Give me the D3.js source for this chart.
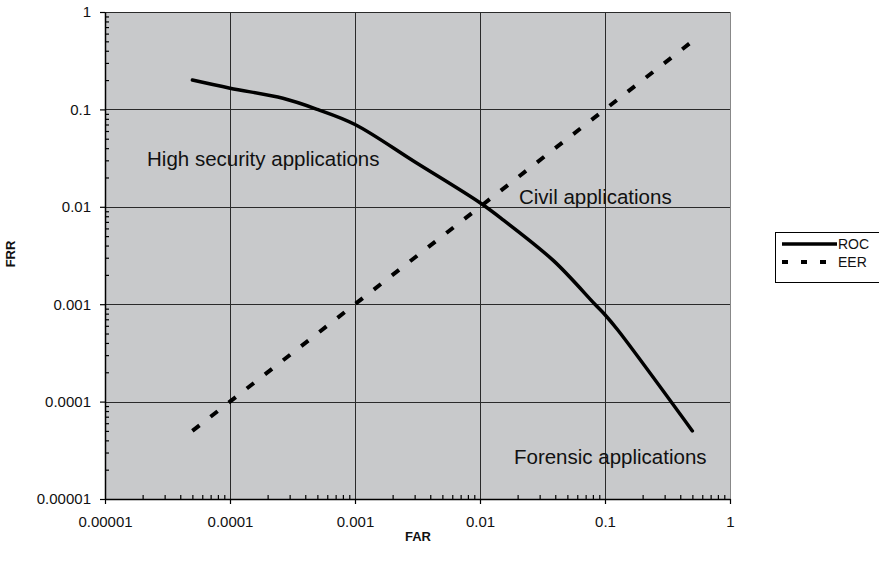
<!DOCTYPE html>
<meta charset="utf-8">
<style>
  body { margin: 0; background: #fff; }
  text { font-family: "Liberation Sans", Arial, sans-serif; fill: #111; }
</style>
<svg width="879" height="561"></svg>
<script src="https://d3js.org/d3.v7.min.js"></script>
<script>

// ROC curve (FAR, FRR)
var rocFar = [5e-5, 1e-4, 2.65e-4, 5e-4, 1e-3, 3e-3, 0.01, 0.0154, 0.0387, 0.083, 0.1, 0.127, 0.5];
var rocFrr = [0.2, 0.165, 0.13, 0.1, 0.07, 0.029, 0.011, 0.0073, 0.0028, 0.001, 0.00078, 0.00054, 5e-5];

// equal error line
var eerFar = [5e-5, 0.5];
var eerFrr = [5e-5, 0.5];

var tickValues = [1e-5, 1e-4, 1e-3, 1e-2, 1e-1, 1];
var tickLabels = ["0.00001", "0.0001", "0.001", "0.01", "0.1", "1"];

var noteText = ["High security applications", "Civil applications", "Forensic applications"];
var noteFar = [2.17e-5, 0.0205, 0.0187];
var noteFrr = [0.0262, 0.0107, 2.3e-5];

var legendNames = ["ROC", "EER"];

var svg = d3.select("svg");

var x = d3.scaleLog().domain([1e-5, 1]).range([105, 730]),
    y = d3.scaleLog().domain([1e-5, 1]).range([499, 12]);

// minor ticks 2..9 in each decade
var minors = [];
tickValues.slice(0, -1).forEach(function(d) {
  for (var k = 2; k < 10; k++) minors.push(d * k);
});

svg.append("rect")
    .attr("x", x(1e-5)).attr("y", y(1))
    .attr("width", x(1) - x(1e-5)).attr("height", y(1e-5) - y(1))
    .attr("fill", "#c8c9cb");

// grid
var grid = svg.append("g").attr("stroke", "#2a2a2a").attr("stroke-width", 1).attr("shape-rendering", "crispEdges");
grid.selectAll(".h").data(tickValues.slice(1)).enter().append("line")
    .attr("x1", x(1e-5)).attr("x2", x(1))
    .attr("y1", function(d) { return Math.round(y(d)) + 0.5; })
    .attr("y2", function(d) { return Math.round(y(d)) + 0.5; });
grid.selectAll(".v").data(tickValues.slice(1)).enter().append("line")
    .attr("y1", y(1)).attr("y2", y(1e-5))
    .attr("x1", function(d) { return Math.round(x(d)) + 0.5; })
    .attr("x2", function(d) { return Math.round(x(d)) + 0.5; })
    .attr("stroke", function(d) { return d == 1 ? "#888" : null; });

function fmt(d) { return tickLabels[tickValues.indexOf(d)]; }

// axes
svg.append("g").attr("transform", "translate(" + x(1e-5) + ",0)")
    .call(d3.axisLeft(y).tickValues(tickValues).tickFormat(fmt).tickSize(5).tickSizeOuter(0).tickPadding(9));
svg.append("g").attr("transform", "translate(" + x(1e-5) + ",0)")
    .call(d3.axisRight(y).tickValues(minors).tickFormat("").tickSize(4).tickSizeOuter(0))
    .select(".domain").remove();

svg.append("g").attr("transform", "translate(0," + y(1e-5) + ")")
    .call(d3.axisBottom(x).tickValues(tickValues).tickFormat(fmt).tickSize(5).tickSizeOuter(0).tickPadding(12));
svg.append("g").attr("transform", "translate(0," + y(1e-5) + ")")
    .call(d3.axisTop(x).tickValues(minors).tickFormat("").tickSize(4).tickSizeOuter(0))
    .select(".domain").remove();

svg.selectAll(".tick line").attr("stroke", "#000").attr("stroke-width", 1.2);
svg.selectAll(".domain").attr("stroke", "#000").attr("stroke-width", 1.5);
svg.selectAll(".tick text")
    .style("font-family", "'Liberation Sans', Arial, sans-serif")
    .style("font-size", "15px").attr("fill", "#111");

// axis titles
svg.append("text").attr("x", 418).attr("y", 541).attr("text-anchor", "middle")
    .style("font-size", "13px").style("font-weight", "bold").text("FAR");
svg.append("text").attr("transform", "translate(15,254) rotate(-90)").attr("text-anchor", "middle")
    .style("font-size", "13px").style("font-weight", "bold").text("FRR");

// series
var line = d3.line()
    .x(function(d) { return x(d[0]); })
    .y(function(d) { return y(d[1]); });

svg.append("path")
    .datum(d3.zip(eerFar, eerFrr))
    .attr("d", line)
    .attr("fill", "none").attr("stroke", "#000").attr("stroke-width", 4)
    .attr("stroke-dasharray", "9,14");

svg.append("path")
    .datum(d3.zip(rocFar, rocFrr))
    .attr("d", line.curve(d3.curveCatmullRom.alpha(0.5)))
    .attr("fill", "none").attr("stroke", "#000").attr("stroke-width", 3.5)
    .attr("stroke-linecap", "round");

// annotations
svg.selectAll(".note").data(noteText).enter().append("text")
    .attr("x", function(d, i) { return x(noteFar[i]); })
    .attr("y", function(d, i) { return y(noteFrr[i]); })
    .style("font-size", "20.5px")
    .attr("fill", "#1a1a1a")
    .text(function(d) { return d; });

// legend
var legend = svg.append("g");
legend.append("rect").attr("x", 775.5).attr("y", 232.5).attr("width", 120).attr("height", 50)
    .attr("fill", "#fff").attr("stroke", "#000").attr("stroke-width", 1);
legendNames.forEach(function(name, i) {
  var ly = 244 + i * 18;
  legend.append("line").attr("x1", 782).attr("x2", 837).attr("y1", ly).attr("y2", ly)
      .attr("stroke", "#000").attr("stroke-width", i ? 4 : 3.5)
      .attr("stroke-dasharray", i ? "6,13" : null);
  legend.append("text").attr("x", 838).attr("y", ly + 5)
      .style("font-size", "14px").text(name);
});

</script>
